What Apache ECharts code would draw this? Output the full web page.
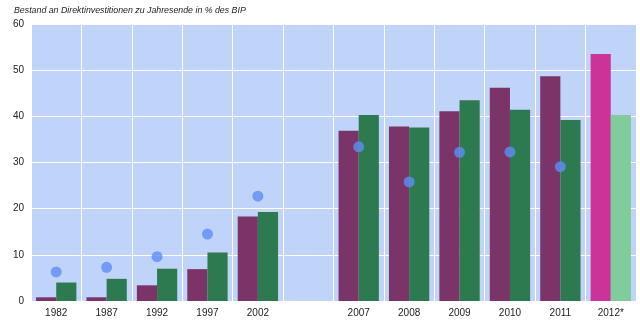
<!DOCTYPE html>
<html><head><meta charset="utf-8">
<script src="https://cdn.jsdelivr.net/npm/echarts@6/dist/echarts.min.js"></script>
<style>html,body{margin:0;padding:0;background:#fff}#c{width:640px;height:330px}</style>
</head><body><div id="c"></div>
<script>
const categories = ['1982','1987','1992','1997','2002','','2007','2008','2009','2010','2011','2012*'];
const seriesA = [0.8, 0.8, 3.4, 6.9, 18.3, null, 36.9, 37.8, 41.1, 46.2, 48.7, 53.5];
const seriesB = [4.0, 4.8, 7.0, 10.5, 19.3, null, 40.3, 37.6, 43.5, 41.4, 39.2, 40.3];
const dots = [6.3, 7.3, 9.6, 14.5, 22.7, null, 33.4, 25.8, 32.2, 32.3, 29.1, null];
const yTicks = [0, 10, 20, 30, 40, 50, 60];
const titleText = 'Bestand an Direktinvestitionen zu Jahresende in % des BIP';

const lastIdx = categories.length - 1;
const dataA = seriesA.map((v, i) => i === lastIdx ? {value: v, itemStyle: {color: '#cc3399'}} : v);
const dataB = seriesB.map((v, i) => i === lastIdx ? {value: v, itemStyle: {color: '#80cc9a'}} : v);

const chart = echarts.init(document.getElementById('c'), null, {renderer: 'canvas'});
chart.setOption({
  animation: false,
  title: {text: titleText, left: 14, top: 6, padding: 0, textStyle: {fontFamily: 'Liberation Sans, Arial', fontSize: 8.8, fontStyle: 'italic', fontWeight: 'normal', color: '#222'}},
  grid: {left: 31, right: 4, top: 24, bottom: 29, show: true, backgroundColor: '#c0d3f8', borderWidth: 0},
  xAxis: {
    type: 'category', data: categories,
    axisLine: {show: false}, axisTick: {show: false},
    axisLabel: {fontFamily: 'Liberation Sans, Arial', fontSize: 10, color: '#222', margin: 7, interval: 0},
    splitLine: {show: true, interval: 0, lineStyle: {color: '#ffffff', width: 1}}
  },
  yAxis: {
    type: 'value', min: yTicks[0], max: yTicks[yTicks.length - 1], interval: 10,
    axisLine: {show: false}, axisTick: {show: false},
    axisLabel: {fontFamily: 'Liberation Sans, Arial', fontSize: 10, color: '#222', margin: 7},
    splitLine: {show: true, lineStyle: {color: '#ffffff', width: 1}}
  },
  series: [
    {type: 'bar', data: dataA, barGap: '0%', barCategoryGap: '20%', itemStyle: {color: '#7a3468'}},
    {type: 'bar', data: dataB, barGap: '0%', barCategoryGap: '20%', itemStyle: {color: '#2e7a50'}},
    {type: 'scatter', data: dots, symbolSize: 11, itemStyle: {color: '#5e8df5'}, z: 5}
  ]
});
</script></body></html>
